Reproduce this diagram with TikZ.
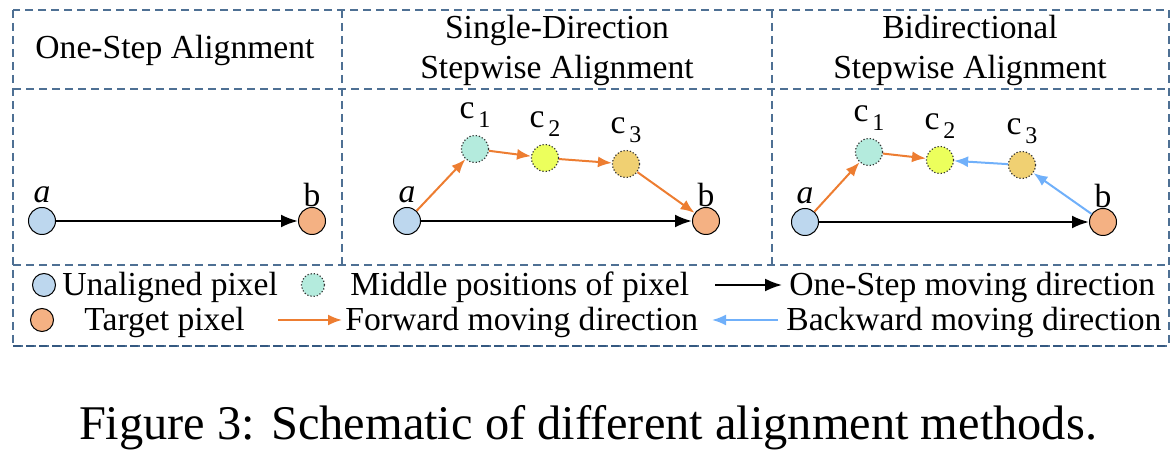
\documentclass[tikz,border=0pt]{standalone}
\usepackage{fontspec}
\setmainfont{Liberation Serif}
\usepackage{tikz}
\usetikzlibrary{shapes, arrows.meta}
\definecolor{frameblue}{RGB}{78,112,148}
\definecolor{framedark}{RGB}{52,88,128}
\definecolor{pixblue}{RGB}{189,215,238}
\definecolor{pixorange}{RGB}{244,177,131}
\definecolor{midcyan}{RGB}{180,235,221}
\definecolor{midyellow}{RGB}{236,255,92}
\definecolor{midgold}{RGB}{240,208,114}
\definecolor{fwdorange}{RGB}{237,125,49}
\definecolor{bwdblue}{RGB}{112,176,250}
\tikzstyle{pixel} = [circle, draw, line width=0.5pt, inner sep=0pt, minimum size=13.5pt]
\tikzstyle{midpix} = [circle, draw=black!80, densely dotted, line width=0.6pt, inner sep=0pt, minimum size=13.5pt]
\tikzstyle{tag} = [inner sep=0pt, font=\fontsize{16.8}{20}\selectfont]
\tikzstyle{frame} = [draw=frameblue, dash pattern=on 4pt off 2.5pt, line width=0.7pt]
\tikzstyle{line} = [draw, line width=1.2pt, -{Latex[length=8.5pt, width=6.5pt]}]
\tikzstyle{fwd} = [draw=fwdorange, line width=1pt, -{Latex[length=7pt, width=5.5pt]}]
\tikzstyle{bwd} = [draw=bwdblue, line width=1pt, -{Latex[length=7pt, width=5.5pt]}]
\newcommand{\csub}[1]{c\raisebox{-4.5pt}{\fontsize{12}{12}\selectfont\,#1}}

\begin{document}
\begin{tikzpicture}[x=0.5pt, y=-0.5pt, node distance = 13pt]
	\useasboundingbox (0,0) rectangle (1175,459);
	
	% Frame
	\draw [frame] (13,10) rectangle (1169,346);
	\draw [frame] (13,89) -- (1169,89);
	\draw [frame] (13,265) -- (1169,265);
	\draw [frame] (342,10) -- (342,265);
	\draw [frame] (772,10) -- (772,265);
	\draw [frame, draw=framedark, line width=0.9pt] (13,346) -- (1169,346);
	
	% Headers
	\node [tag] 								(H1) at (175,50)			{One-Step Alignment};
	\node [tag, align=center] 					(H2) at (557,50)			{Single-Direction\\Stepwise Alignment};
	\node [tag, align=center] 					(H3) at (970,50)			{Bidirectional\\Stepwise Alignment};
	
	% Place nodes
	\node [pixel, fill=pixblue] 				(a1) at (42,221)			{};
	\node [pixel, fill=pixorange] 				(b1) at (312,221)			{};
	\node [tag, above of=a1] 					(la1)						{\textit{a}};
	\node [tag, above of=b1] 					(lb1)						{b};
	
	\node [pixel, fill=pixblue] 				(a2) at (407,221)			{};
	\node [midpix, fill=midcyan] 				(c21) at (475,149)			{};
	\node [midpix, fill=midyellow] 				(c22) at (545,158)			{};
	\node [midpix, fill=midgold] 				(c23) at (626,164)			{};
	\node [pixel, fill=pixorange] 				(b2) at (706,221)			{};
	\node [tag, above of=a2] 					(la2)						{\textit{a}};
	\node [tag, above of=b2] 					(lb2)						{b};
	\node [tag, above of=c21, yshift=4pt] 		(lc21)						{\csub{1}};
	\node [tag, above of=c22, yshift=4pt] 		(lc22)						{\csub{2}};
	\node [tag, above of=c23, yshift=4pt] 		(lc23)						{\csub{3}};
	
	\node [pixel, fill=pixblue] 				(a3) at (805,222)			{};
	\node [midpix, fill=midcyan] 				(c31) at (869,152)			{};
	\node [midpix, fill=midyellow] 				(c32) at (940,160)			{};
	\node [midpix, fill=midgold] 				(c33) at (1022,165)			{};
	\node [pixel, fill=pixorange] 				(b3) at (1103,222)			{};
	\node [tag, above of=a3] 					(la3)						{\textit{a}};
	\node [tag, above of=b3] 					(lb3)						{b};
	\node [tag, above of=c31, yshift=4pt] 		(lc31)						{\csub{1}};
	\node [tag, above of=c32, yshift=4pt] 		(lc32)						{\csub{2}};
	\node [tag, above of=c33, yshift=4pt] 		(lc33)						{\csub{3}};
	
	% Legend
	\node [pixel, fill=pixblue, minimum size=11.5pt] 	(kA) at (44,285)	{};
	\node [tag, anchor=base west] 						(tA) at (62,296)	{Unaligned pixel};
	\node [pixel, fill=pixorange, minimum size=11.5pt] 	(kB) at (42,320)	{};
	\node [tag, anchor=base west] 						(tB) at (84,331)	{Target pixel};
	\node [midpix, fill=midcyan, minimum size=11.5pt] 	(kC) at (313,285)	{};
	\node [tag, anchor=base west] 						(tC) at (350,296)	{Middle positions of pixel};
	\node [tag, anchor=base west] 						(tD) at (345,331)	{Forward moving direction};
	\node [tag, anchor=base west] 						(tE) at (789,296)	{One-Step moving direction};
	\node [tag, anchor=base west] 						(tF) at (786,331)	{Backward moving direction};
	\coordinate (kDs) at (278,320);	\coordinate (kDe) at (342,320);
	\coordinate (kEs) at (715,285);	\coordinate (kEe) at (782,285);
	\coordinate (kFs) at (778,320);	\coordinate (kFe) at (712,320);
	
	% Caption
	\node [inner sep=0pt, font=\fontsize{24.2}{29}\selectfont] (cap) at (588,428) {Figure 3: Schematic of different alignment methods.};
	
	%Draw edges
	\path [line] (a1) 		-- 		(b1);
	\path [line] (a2) 		-- 		(b2);
	\path [line] (a3) 		-- 		(b3);
	\path [fwd] (a2) 		-- 		(c21);
	\path [fwd] (c21) 		-- 		(c22);
	\path [fwd] (c22) 		-- 		(c23);
	\path [fwd] (c23) 		-- 		(b2);
	\path [fwd] (a3) 		-- 		(c31);
	\path [fwd] (c31) 		-- 		(c32);
	\path [bwd] (b3) 		-- 		(c33);
	\path [bwd] (c33) 		-- 		(c32);
	\path [fwd] (kDs) 		-- 		(kDe);
	\path [line, line width=1pt] (kEs) 		-- 		(kEe);
	\path [bwd] (kFs) 		-- 		(kFe);
	
\end{tikzpicture}
\end{document}
